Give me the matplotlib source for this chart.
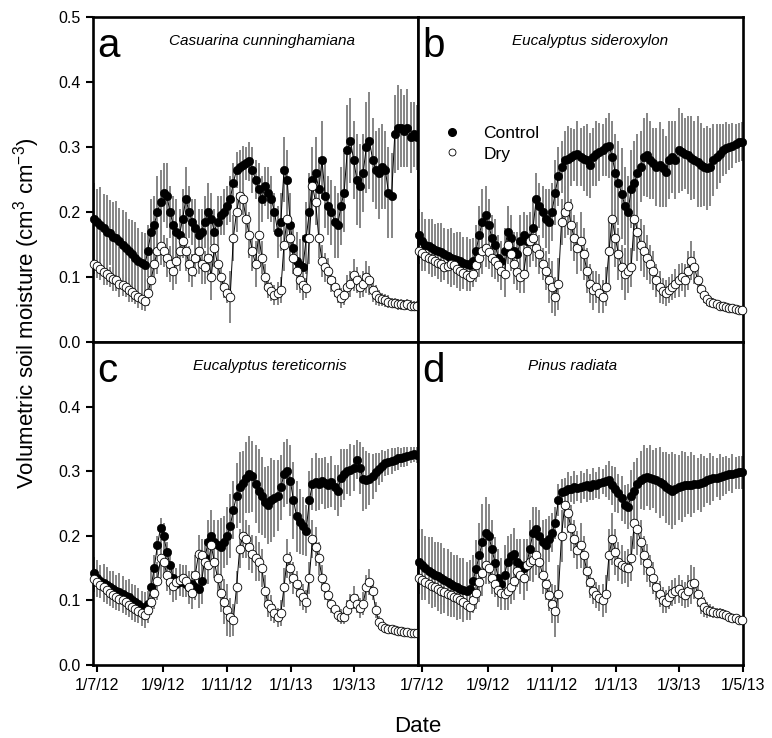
## Soil moisture under control and dry treatments for four tree species.
## Daily means (sampled every 3 days) with grey error bars, 2x2 panels.

import numpy as np
import matplotlib
matplotlib.use("Agg")
import matplotlib.pyplot as plt
from matplotlib.lines import Line2D

plt.rcParams['font.family'] = ['Liberation Sans', 'DejaVu Sans']
plt.rcParams['mathtext.fontset'] = 'custom'
plt.rcParams['mathtext.rm'] = 'Liberation Sans'

## sampling dates (every third day)
dates = np.datetime64('2012-06-28') + np.arange(103) * 3

## x axis ticks
tick_dates = np.array(['2012-07-01', '2012-09-01', '2012-11-01', '2013-01-01',
                       '2013-03-01', '2013-05-01'], dtype='datetime64[D]')
tick_labels = ['1/7/12', '1/9/12', '1/11/12', '1/1/13', '1/3/13', '1/5/13']

species = ['Casuarina cunninghamiana', 'Eucalyptus sideroxylon',
           'Eucalyptus tereticornis', 'Pinus radiata']
letters = ['a', 'b', 'c', 'd']

## a: Casuarina cunninghamiana
cas_control = [0.19, 0.185, 0.18, 0.176, 0.17, 0.168, 0.162, 0.16, 0.156, 0.15,
               0.145, 0.14, 0.135, 0.13, 0.125, 0.122, 0.118, 0.14, 0.17, 0.18,
               0.2, 0.215, 0.23, 0.225, 0.2, 0.18, 0.17, 0.165, 0.19, 0.22,
               0.2, 0.185, 0.175, 0.165, 0.17, 0.185, 0.2, 0.19, 0.17, 0.185,
               0.195, 0.2, 0.21, 0.22, 0.245, 0.265, 0.27, 0.272, 0.275, 0.278,
               0.265, 0.25, 0.235, 0.22, 0.24, 0.23, 0.22, 0.2, 0.17, 0.185,
               0.265, 0.25, 0.18, 0.145, 0.125, 0.118, 0.115, 0.16, 0.2, 0.25,
               0.26, 0.235, 0.28, 0.225, 0.21, 0.2, 0.185, 0.18, 0.21, 0.23,
               0.295, 0.31, 0.28, 0.25, 0.24, 0.26, 0.3, 0.31, 0.28, 0.265,
               0.26, 0.27, 0.265, 0.23, 0.225, 0.32, 0.33, 0.33, 0.325, 0.33,
               0.315, 0.32, 0.315]
cas_control_se = [0.055, 0.05, 0.058, 0.052, 0.056, 0.05, 0.054, 0.057, 0.05, 0.053,
                  0.055, 0.05, 0.052, 0.054, 0.05, 0.048, 0.05, 0.04, 0.05, 0.045,
                  0.055, 0.05, 0.045, 0.05, 0.04, 0.045, 0.05, 0.04, 0.045, 0.05,
                  0.04, 0.035, 0.045, 0.04, 0.035, 0.04, 0.045, 0.04, 0.035, 0.04,
                  0.03, 0.035, 0.03, 0.035, 0.03, 0.028, 0.025, 0.03, 0.025, 0.03,
                  0.035, 0.03, 0.04, 0.035, 0.03, 0.04, 0.035, 0.03, 0.04, 0.045,
                  0.05, 0.045, 0.05, 0.04, 0.045, 0.04, 0.05, 0.055, 0.06, 0.05,
                  0.055, 0.05, 0.06, 0.05, 0.045, 0.05, 0.055, 0.05, 0.06, 0.06,
                  0.07, 0.065, 0.06, 0.07, 0.065, 0.06, 0.07, 0.075, 0.065, 0.06,
                  0.07, 0.065, 0.06, 0.07, 0.065, 0.06, 0.065, 0.06, 0.055, 0.06,
                  0.055, 0.05, 0.05]
cas_dry = [0.12, 0.117, 0.112, 0.108, 0.105, 0.1, 0.097, 0.095, 0.09, 0.088,
           0.085, 0.08, 0.077, 0.073, 0.07, 0.066, 0.063, 0.075, 0.095, 0.12,
           0.14, 0.148, 0.14, 0.13, 0.12, 0.11, 0.125, 0.14, 0.155, 0.14,
           0.12, 0.11, 0.13, 0.14, 0.12, 0.115, 0.13, 0.1, 0.145, 0.12,
           0.1, 0.085, 0.075, 0.07, 0.16, 0.2, 0.225, 0.22, 0.19, 0.165,
           0.14, 0.12, 0.165, 0.13, 0.1, 0.085, 0.078, 0.072, 0.075, 0.08,
           0.15, 0.19, 0.16, 0.13, 0.11, 0.095, 0.088, 0.083, 0.16, 0.24,
           0.215, 0.16, 0.125, 0.115, 0.11, 0.095, 0.085, 0.075, 0.068, 0.072,
           0.085, 0.09, 0.103, 0.095, 0.085, 0.09, 0.1, 0.095, 0.08, 0.072,
           0.068, 0.066, 0.064, 0.062, 0.06, 0.06, 0.058, 0.058, 0.057, 0.058,
           0.056, 0.055, 0.055]
cas_dry_se = [0.015, 0.018, 0.016, 0.02, 0.017, 0.015, 0.018, 0.016, 0.02, 0.017,
              0.015, 0.018, 0.016, 0.015, 0.017, 0.016, 0.015, 0.02, 0.025, 0.03,
              0.035, 0.03, 0.025, 0.03, 0.028, 0.03, 0.035, 0.03, 0.025, 0.03,
              0.028, 0.025, 0.03, 0.035, 0.03, 0.025, 0.03, 0.035, 0.03, 0.025,
              0.02, 0.018, 0.015, 0.04, 0.035, 0.03, 0.03, 0.025, 0.03, 0.035,
              0.03, 0.035, 0.03, 0.025, 0.02, 0.018, 0.015, 0.015, 0.018, 0.02,
              0.04, 0.035, 0.03, 0.025, 0.02, 0.02, 0.018, 0.015, 0.04, 0.04,
              0.035, 0.03, 0.025, 0.022, 0.02, 0.018, 0.015, 0.015, 0.015, 0.015,
              0.018, 0.02, 0.025, 0.02, 0.018, 0.02, 0.025, 0.022, 0.018, 0.015,
              0.012, 0.01, 0.01, 0.01, 0.008, 0.008, 0.008, 0.008, 0.008, 0.008,
              0.008, 0.008, 0.008]

## b: Eucalyptus sideroxylon
sid_control = [0.165, 0.155, 0.15, 0.148, 0.145, 0.142, 0.14, 0.138, 0.135, 0.132,
               0.13, 0.128, 0.126, 0.124, 0.122, 0.12, 0.118, 0.125, 0.14, 0.165,
               0.185, 0.195, 0.18, 0.16, 0.15, 0.13, 0.125, 0.14, 0.17, 0.16,
               0.14, 0.135, 0.155, 0.165, 0.155, 0.16, 0.175, 0.22, 0.21, 0.2,
               0.19, 0.185, 0.2, 0.23, 0.255, 0.27, 0.28, 0.282, 0.285, 0.288,
               0.29, 0.285, 0.282, 0.28, 0.272, 0.285, 0.29, 0.292, 0.295, 0.3,
               0.302, 0.285, 0.26, 0.245, 0.228, 0.21, 0.2, 0.235, 0.245, 0.26,
               0.27, 0.285, 0.288, 0.28, 0.275, 0.27, 0.273, 0.268, 0.262, 0.28,
               0.285, 0.28, 0.295, 0.293, 0.29, 0.288, 0.283, 0.28, 0.277, 0.272,
               0.27, 0.268, 0.27, 0.28, 0.285, 0.29, 0.295, 0.298, 0.3, 0.302,
               0.305, 0.307, 0.308]
sid_control_se = [0.04, 0.045, 0.04, 0.042, 0.045, 0.04, 0.043, 0.045, 0.04, 0.042,
                  0.045, 0.04, 0.043, 0.045, 0.04, 0.042, 0.04, 0.035, 0.04, 0.045,
                  0.05, 0.045, 0.04, 0.035, 0.04, 0.035, 0.03, 0.035, 0.04, 0.035,
                  0.03, 0.035, 0.04, 0.035, 0.04, 0.04, 0.045, 0.04, 0.035, 0.04,
                  0.045, 0.05, 0.045, 0.05, 0.045, 0.04, 0.045, 0.05, 0.045, 0.04,
                  0.05, 0.045, 0.05, 0.055, 0.05, 0.045, 0.05, 0.045, 0.04, 0.045,
                  0.05, 0.055, 0.06, 0.065, 0.07, 0.06, 0.055, 0.06, 0.065, 0.06,
                  0.055, 0.06, 0.065, 0.06, 0.055, 0.06, 0.065, 0.06, 0.055, 0.06,
                  0.055, 0.06, 0.065, 0.06, 0.055, 0.06, 0.065, 0.06, 0.07, 0.065,
                  0.06, 0.065, 0.06, 0.055, 0.05, 0.045, 0.04, 0.04, 0.035, 0.035,
                  0.03, 0.03, 0.03]
sid_dry = [0.14, 0.137, 0.133, 0.13, 0.127, 0.125, 0.122, 0.12, 0.115, 0.117,
           0.12, 0.118, 0.113, 0.11, 0.106, 0.103, 0.1, 0.105, 0.118, 0.13,
           0.14, 0.145, 0.138, 0.13, 0.125, 0.118, 0.11, 0.105, 0.15, 0.135,
           0.12, 0.108, 0.1, 0.105, 0.14, 0.155, 0.16, 0.145, 0.135, 0.12,
           0.11, 0.095, 0.085, 0.07, 0.09, 0.185, 0.2, 0.21, 0.18, 0.16,
           0.145, 0.155, 0.135, 0.11, 0.09, 0.08, 0.085, 0.075, 0.07, 0.085,
           0.14, 0.19, 0.16, 0.135, 0.115, 0.105, 0.11, 0.115, 0.19, 0.17,
           0.15, 0.14, 0.13, 0.12, 0.11, 0.095, 0.085, 0.078, 0.075, 0.08,
           0.085, 0.09, 0.095, 0.1, 0.095, 0.11, 0.125, 0.115, 0.095, 0.082,
           0.072, 0.066, 0.062, 0.06, 0.058, 0.056, 0.055, 0.054, 0.053, 0.052,
           0.051, 0.05, 0.05]
sid_dry_se = [0.02, 0.022, 0.02, 0.025, 0.022, 0.02, 0.025, 0.022, 0.02, 0.025,
              0.022, 0.02, 0.022, 0.025, 0.02, 0.022, 0.02, 0.02, 0.025, 0.03,
              0.035, 0.03, 0.025, 0.03, 0.028, 0.025, 0.03, 0.035, 0.03, 0.025,
              0.03, 0.028, 0.025, 0.03, 0.035, 0.04, 0.035, 0.03, 0.03, 0.025,
              0.03, 0.035, 0.04, 0.03, 0.04, 0.035, 0.04, 0.045, 0.04, 0.035,
              0.04, 0.045, 0.04, 0.035, 0.03, 0.03, 0.025, 0.03, 0.025, 0.03,
              0.05, 0.05, 0.045, 0.04, 0.035, 0.04, 0.035, 0.03, 0.05, 0.045,
              0.04, 0.04, 0.035, 0.03, 0.03, 0.025, 0.025, 0.02, 0.02, 0.02,
              0.02, 0.022, 0.025, 0.022, 0.025, 0.03, 0.03, 0.025, 0.02, 0.015,
              0.012, 0.01, 0.008, 0.008, 0.007, 0.007, 0.006, 0.006, 0.006, 0.005,
              0.005, 0.005, 0.005]

## c: Eucalyptus tereticornis
ter_control = [0.142, 0.135, 0.13, 0.127, 0.124, 0.12, 0.117, 0.115, 0.113, 0.11,
               0.107, 0.105, 0.1, 0.097, 0.094, 0.09, 0.088, 0.095, 0.12, 0.15,
               0.185, 0.212, 0.2, 0.175, 0.155, 0.135, 0.125, 0.128, 0.13, 0.125,
               0.12, 0.125, 0.12, 0.118, 0.13, 0.165, 0.19, 0.2, 0.19, 0.185,
               0.183, 0.19, 0.2, 0.215, 0.24, 0.262, 0.275, 0.282, 0.29, 0.295,
               0.292, 0.28, 0.27, 0.262, 0.252, 0.248, 0.255, 0.258, 0.262, 0.275,
               0.295, 0.3, 0.285, 0.255, 0.23, 0.222, 0.215, 0.208, 0.255, 0.28,
               0.283, 0.28, 0.285, 0.282, 0.278, 0.284, 0.275, 0.27, 0.29, 0.295,
               0.3, 0.302, 0.305, 0.318, 0.305, 0.288, 0.286, 0.288, 0.292, 0.298,
               0.303, 0.308, 0.312, 0.314, 0.316, 0.318, 0.32, 0.321, 0.322, 0.323,
               0.325, 0.326, 0.325]
ter_control_se = [0.025, 0.028, 0.025, 0.03, 0.027, 0.025, 0.028, 0.025, 0.03, 0.027,
                  0.025, 0.028, 0.025, 0.027, 0.025, 0.025, 0.025, 0.02, 0.025, 0.02,
                  0.015, 0.015, 0.02, 0.015, 0.02, 0.02, 0.025, 0.02, 0.025, 0.02,
                  0.025, 0.02, 0.02, 0.03, 0.035, 0.03, 0.035, 0.04, 0.035, 0.04,
                  0.045, 0.04, 0.045, 0.05, 0.045, 0.05, 0.055, 0.05, 0.055, 0.06,
                  0.055, 0.06, 0.065, 0.06, 0.055, 0.06, 0.065, 0.06, 0.055, 0.05,
                  0.05, 0.05, 0.055, 0.06, 0.055, 0.05, 0.045, 0.04, 0.045, 0.04,
                  0.045, 0.04, 0.035, 0.04, 0.035, 0.04, 0.035, 0.04, 0.045, 0.04,
                  0.035, 0.04, 0.035, 0.03, 0.04, 0.05, 0.045, 0.04, 0.035, 0.03,
                  0.025, 0.025, 0.02, 0.02, 0.02, 0.018, 0.018, 0.015, 0.015, 0.015,
                  0.012, 0.012, 0.012]
ter_dry = [0.133, 0.128, 0.124, 0.12, 0.116, 0.112, 0.108, 0.105, 0.102, 0.1,
           0.097, 0.093, 0.09, 0.087, 0.083, 0.08, 0.077, 0.085, 0.097, 0.112,
           0.13, 0.165, 0.16, 0.14, 0.128, 0.122, 0.128, 0.132, 0.135, 0.13,
           0.12, 0.112, 0.14, 0.172, 0.17, 0.16, 0.155, 0.185, 0.16, 0.135,
           0.112, 0.098, 0.085, 0.074, 0.07, 0.12, 0.18, 0.2, 0.195, 0.182,
           0.172, 0.165, 0.16, 0.15, 0.115, 0.094, 0.088, 0.08, 0.074, 0.08,
           0.12, 0.165, 0.15, 0.135, 0.125, 0.112, 0.105, 0.098, 0.135, 0.195,
           0.183, 0.165, 0.135, 0.12, 0.108, 0.095, 0.086, 0.078, 0.075, 0.075,
           0.085, 0.095, 0.104, 0.095, 0.088, 0.095, 0.12, 0.128, 0.115, 0.085,
           0.066, 0.06, 0.057, 0.056, 0.055, 0.054, 0.053, 0.052, 0.051, 0.051,
           0.05, 0.05, 0.05]
ter_dry_se = [0.02, 0.022, 0.02, 0.02, 0.022, 0.02, 0.02, 0.02, 0.018, 0.02,
              0.02, 0.018, 0.02, 0.02, 0.018, 0.02, 0.02, 0.02, 0.02, 0.025,
              0.03, 0.03, 0.025, 0.025, 0.02, 0.025, 0.02, 0.025, 0.02, 0.025,
              0.02, 0.025, 0.03, 0.03, 0.025, 0.025, 0.03, 0.03, 0.025, 0.025,
              0.03, 0.035, 0.04, 0.03, 0.025, 0.025, 0.03, 0.035, 0.03, 0.035,
              0.03, 0.035, 0.03, 0.03, 0.025, 0.02, 0.02, 0.015, 0.015, 0.02,
              0.03, 0.03, 0.025, 0.025, 0.02, 0.02, 0.02, 0.018, 0.025, 0.03,
              0.03, 0.025, 0.02, 0.02, 0.015, 0.015, 0.012, 0.012, 0.012, 0.012,
              0.015, 0.015, 0.018, 0.015, 0.015, 0.018, 0.02, 0.02, 0.015, 0.012,
              0.01, 0.008, 0.007, 0.006, 0.006, 0.005, 0.005, 0.005, 0.005, 0.005,
              0.005, 0.005, 0.005]

## d: Pinus radiata
pin_control = [0.16, 0.155, 0.15, 0.146, 0.143, 0.14, 0.137, 0.134, 0.131, 0.128,
               0.125, 0.123, 0.12, 0.118, 0.116, 0.115, 0.118, 0.13, 0.148, 0.17,
               0.19, 0.205, 0.2, 0.18, 0.158, 0.135, 0.125, 0.14, 0.16, 0.168,
               0.172, 0.16, 0.155, 0.15, 0.155, 0.18, 0.205, 0.21, 0.2, 0.19,
               0.186, 0.195, 0.205, 0.22, 0.255, 0.268, 0.27, 0.273, 0.272, 0.275,
               0.274, 0.276, 0.277, 0.278, 0.276, 0.28, 0.279, 0.282, 0.284, 0.285,
               0.286, 0.278, 0.272, 0.266, 0.258, 0.248, 0.245, 0.262, 0.27, 0.28,
               0.287, 0.29, 0.291, 0.29, 0.288, 0.286, 0.283, 0.28, 0.275, 0.272,
               0.27, 0.272, 0.275, 0.277, 0.279, 0.278, 0.279, 0.28, 0.28, 0.282,
               0.284, 0.286, 0.288, 0.289, 0.29, 0.291, 0.292, 0.294, 0.295, 0.296,
               0.297, 0.298, 0.298]
pin_control_se = [0.05, 0.055, 0.05, 0.052, 0.055, 0.05, 0.053, 0.055, 0.05, 0.052,
                  0.05, 0.048, 0.05, 0.047, 0.05, 0.045, 0.045, 0.04, 0.045, 0.05,
                  0.06, 0.055, 0.05, 0.045, 0.04, 0.045, 0.04, 0.045, 0.04, 0.035,
                  0.04, 0.035, 0.04, 0.045, 0.04, 0.045, 0.04, 0.035, 0.04, 0.035,
                  0.04, 0.035, 0.03, 0.025, 0.025, 0.02, 0.02, 0.025, 0.02, 0.025,
                  0.02, 0.025, 0.02, 0.025, 0.02, 0.025, 0.02, 0.025, 0.02, 0.025,
                  0.03, 0.03, 0.035, 0.03, 0.035, 0.03, 0.035, 0.04, 0.045, 0.04,
                  0.045, 0.05, 0.045, 0.05, 0.045, 0.05, 0.055, 0.05, 0.055, 0.055,
                  0.06, 0.055, 0.05, 0.055, 0.05, 0.045, 0.05, 0.045, 0.04, 0.045,
                  0.04, 0.035, 0.04, 0.035, 0.03, 0.035, 0.03, 0.03, 0.025, 0.03,
                  0.025, 0.025, 0.025]
pin_dry = [0.135, 0.132, 0.128, 0.125, 0.122, 0.12, 0.118, 0.115, 0.113, 0.11,
           0.108, 0.106, 0.103, 0.1, 0.097, 0.093, 0.09, 0.1, 0.112, 0.128,
           0.142, 0.155, 0.15, 0.135, 0.125, 0.116, 0.112, 0.11, 0.115, 0.12,
           0.13, 0.145, 0.14, 0.135, 0.155, 0.16, 0.163, 0.17, 0.16, 0.14,
           0.125, 0.108, 0.095, 0.084, 0.11, 0.2, 0.247, 0.235, 0.212, 0.195,
           0.178, 0.185, 0.17, 0.145, 0.128, 0.115, 0.108, 0.104, 0.1, 0.11,
           0.17, 0.195, 0.175, 0.16, 0.155, 0.152, 0.15, 0.165, 0.22, 0.21,
           0.19, 0.17, 0.158, 0.145, 0.135, 0.12, 0.11, 0.1, 0.098, 0.105,
           0.112, 0.115, 0.118, 0.112, 0.108, 0.115, 0.125, 0.127, 0.11, 0.097,
           0.09, 0.085, 0.084, 0.082, 0.081, 0.08, 0.079, 0.077, 0.075, 0.073,
           0.072, 0.07, 0.069]
pin_dry_se = [0.02, 0.022, 0.02, 0.022, 0.02, 0.022, 0.02, 0.022, 0.02, 0.02,
              0.022, 0.02, 0.02, 0.022, 0.02, 0.02, 0.02, 0.02, 0.025, 0.03,
              0.035, 0.03, 0.025, 0.025, 0.02, 0.025, 0.02, 0.025, 0.03, 0.025,
              0.03, 0.025, 0.03, 0.035, 0.03, 0.03, 0.035, 0.03, 0.025, 0.03,
              0.025, 0.025, 0.03, 0.04, 0.045, 0.04, 0.035, 0.03, 0.035, 0.03,
              0.03, 0.035, 0.03, 0.025, 0.025, 0.02, 0.02, 0.02, 0.025, 0.03,
              0.04, 0.04, 0.035, 0.03, 0.03, 0.025, 0.03, 0.035, 0.04, 0.04,
              0.035, 0.03, 0.03, 0.025, 0.025, 0.02, 0.02, 0.02, 0.018, 0.018,
              0.02, 0.02, 0.022, 0.02, 0.02, 0.025, 0.03, 0.025, 0.02, 0.018,
              0.015, 0.012, 0.01, 0.01, 0.008, 0.008, 0.007, 0.007, 0.007, 0.006,
              0.006, 0.006, 0.006]

controls = [cas_control, sid_control, ter_control, pin_control]
controls_se = [cas_control_se, sid_control_se, ter_control_se, pin_control_se]
drys = [cas_dry, sid_dry, ter_dry, pin_dry]
drys_se = [cas_dry_se, sid_dry_se, ter_dry_se, pin_dry_se]


def plot_panel(ax, ctrl, ctrl_se, dry, dry_se):
    """Error bars behind, then control (filled) and dry (open) series."""
    ax.errorbar(dates, ctrl, yerr=ctrl_se, fmt='none', ecolor='#858585',
                elinewidth=1.4, capsize=0, zorder=1)
    ax.errorbar(dates, dry, yerr=dry_se, fmt='none', ecolor='#858585',
                elinewidth=1.4, capsize=0, zorder=1)
    ax.plot(dates, ctrl, '-', color='k', lw=0.7, marker='o', ms=6.0,
            mfc='k', mec='k', mew=0.5, zorder=3, clip_on=False)
    ax.plot(dates, dry, '-', color='k', lw=0.7, marker='o', ms=6.2,
            mfc='white', mec='k', mew=0.6, zorder=4, clip_on=False)


fig = plt.figure(figsize=(7.72, 7.38), dpi=100)

W = 772.0
H = 738.0
col_left = [93 / W, 418 / W]
row_bottom = [1 - 342 / H, 1 - 665 / H]
row_height = [325 / H, 323 / H]
panel_w = 325 / W

species_x = [0.52, 0.53, 0.545, 0.477]

for i in range(4):
    r, c = divmod(i, 2)
    ax = fig.add_axes([col_left[c], row_bottom[r], panel_w, row_height[r]])
    plot_panel(ax, controls[i], controls_se[i], drys[i], drys_se[i])

    ax.set_xlim(np.datetime64('2012-06-27'), np.datetime64('2013-05-01'))
    ax.set_ylim(0, 0.5)
    for s in ax.spines.values():
        s.set_linewidth(1.9)

    if c == 0:
        if r == 0:
            ax.set_yticks([0, 0.1, 0.2, 0.3, 0.4, 0.5])
        else:
            ax.set_yticks([0, 0.1, 0.2, 0.3, 0.4])
        ax.set_yticklabels(['%.1f' % v for v in ax.get_yticks()])
    else:
        ax.set_yticks([])

    if r == 1:
        n = 5 if c == 0 else 6
        ax.set_xticks(tick_dates[:n])
        ax.set_xticklabels(tick_labels[:n])
    else:
        ax.set_xticks([])

    ax.tick_params(direction='out', length=5, width=1.5, labelsize=11.5, pad=4)

    ax.text(0.013, 0.877, letters[i], transform=ax.transAxes, fontsize=29,
            ha='left', va='baseline')
    ax.text(species_x[i], 0.914, species[i], transform=ax.transAxes,
            fontsize=11, style='italic', ha='center', va='baseline')

    if i == 1:
        handles = [Line2D([], [], ls='none', marker='o', ms=5.5, mfc='k', mec='k'),
                   Line2D([], [], ls='none', marker='o', ms=5.0, mfc='white',
                          mec='k', mew=0.6)]
        ax.legend(handles, ['Control', 'Dry'], loc='center left',
                  bbox_to_anchor=(0.078, 0.61), frameon=False, fontsize=12.5,
                  handlelength=1.0, handletextpad=1.3, labelspacing=0.3,
                  borderpad=0, borderaxespad=0)

fig.text(27 / W, 1 - 313 / H, r'Volumetric soil moisture (cm$^{3}$ cm$^{-3}$)',
         rotation=90, ha='center', va='center', fontsize=16)
fig.text(418 / W, 1 - 726 / H, 'Date', ha='center', va='center', fontsize=16)

fig.savefig('out.png', dpi=100)
print("Wrote figure to out.png")
